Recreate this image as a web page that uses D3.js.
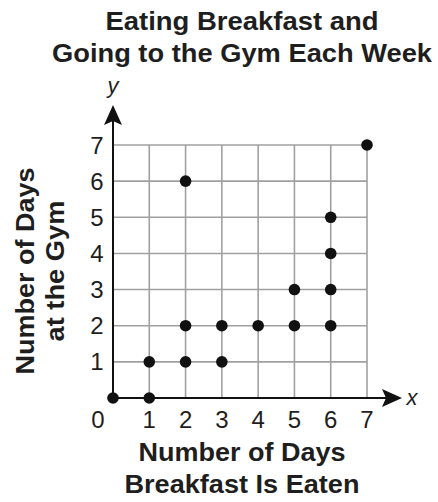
<!DOCTYPE html>
<html>
<head>
<meta charset="utf-8">
<script src="https://cdn.jsdelivr.net/npm/d3@7"></script>
<style>
  html, body { margin: 0; padding: 0; background: #fff; }
  svg { display: block; font-family: "Liberation Sans", Arial, sans-serif; }
</style>
</head>
<body>
<svg id="chart" width="438" height="502"></svg>
<script>
// Days per week: breakfast eaten (x) vs. gym visits (y)
const breakfastDays = [0, 1, 1, 2, 2, 2, 3, 3, 4, 5, 5, 6, 6, 6, 6, 7];
const gymDays       = [0, 0, 1, 1, 2, 6, 1, 2, 2, 2, 3, 2, 3, 4, 5, 7];
const xTicks = [0, 1, 2, 3, 4, 5, 6, 7];
const yTicks = [1, 2, 3, 4, 5, 6, 7];
const titleLines = ["Eating Breakfast and", "Going to the Gym Each Week"];
const xTitleLines = ["Number of Days", "Breakfast Is Eaten"];
const yTitleLines = ["Number of Days", "at the Gym"];

const points = breakfastDays.map((d, i) => ({ x: d, y: gymDays[i] }));

const svg = d3.select("#chart");
const ink = "#1e1e1e";

const x = d3.scaleLinear().domain([0, 7]).range([113, 367]);
const y = d3.scaleLinear().domain([0, 7]).range([398, 145]);

// Title
svg.append("g").selectAll("text").data(titleLines).join("text")
  .attr("x", 242).attr("y", (d, i) => 30 + i * 32)
  .attr("text-anchor", "middle")
  .attr("font-size", 26).attr("font-weight", "bold").attr("fill", ink)
  .attr("textLength", (d, i) => i === 0 ? 273 : 380)
  .attr("lengthAdjust", "spacingAndGlyphs")
  .text(d => d);

// Grid
const grid = svg.append("g").attr("stroke", "#a0a0a0").attr("stroke-width", 1.6);
grid.selectAll("line.v").data(xTicks.slice(1)).join("line").attr("class", "v")
  .attr("x1", d => x(d)).attr("x2", d => x(d))
  .attr("y1", y(0)).attr("y2", y(7));
grid.selectAll("line.h").data(yTicks).join("line").attr("class", "h")
  .attr("x1", x(0)).attr("x2", x(7))
  .attr("y1", d => y(d)).attr("y2", d => y(d));

// Axes with arrowheads
const axes = svg.append("g");
axes.append("line").attr("x1", x(0)).attr("x2", 388).attr("y1", y(0)).attr("y2", y(0))
  .attr("stroke", "#111").attr("stroke-width", 2);
axes.append("line").attr("x1", x(0)).attr("x2", x(0)).attr("y1", y(0)).attr("y2", 120)
  .attr("stroke", "#111").attr("stroke-width", 2);
axes.append("path")
  .attr("d", `M402,${y(0)} L382,${y(0) - 9} L386,${y(0)} L382,${y(0) + 9} Z`)
  .attr("fill", "#111");
axes.append("path")
  .attr("d", `M${x(0)},105 L${x(0) - 9},125 L${x(0)},121 L${x(0) + 9},125 Z`)
  .attr("fill", "#111");

// Axis variable letters
svg.append("text").attr("x", 412).attr("y", y(0) + 7)
  .attr("text-anchor", "middle").attr("font-size", 22).attr("font-style", "italic").attr("fill", ink)
  .text("x");
svg.append("text").attr("x", x(0)).attr("y", 93)
  .attr("text-anchor", "middle").attr("font-size", 22).attr("font-style", "italic").attr("fill", ink)
  .text("y");

// Tick labels
svg.append("g").selectAll("text").data(xTicks).join("text")
  .attr("x", d => d === 0 ? x(0) - 15 : x(d)).attr("y", 428)
  .attr("text-anchor", "middle").attr("font-size", 24).attr("fill", ink)
  .text(d => d);
svg.append("g").selectAll("text").data(yTicks).join("text")
  .attr("x", 97).attr("y", d => y(d) + 8.5)
  .attr("text-anchor", "middle").attr("font-size", 24).attr("fill", ink)
  .text(d => d);

// Axis titles
svg.append("g").selectAll("text").data(xTitleLines).join("text")
  .attr("x", 242).attr("y", (d, i) => 461 + i * 32)
  .attr("text-anchor", "middle").attr("font-size", 25).attr("font-weight", "bold").attr("fill", ink)
  .attr("textLength", (d, i) => i === 0 ? 207 : 235)
  .attr("lengthAdjust", "spacingAndGlyphs")
  .text(d => d);
svg.append("g").selectAll("text").data(yTitleLines).join("text")
  .attr("transform", (d, i) => `translate(${34 + i * 30},271) rotate(-90)`)
  .attr("text-anchor", "middle").attr("font-size", 25).attr("font-weight", "bold").attr("fill", ink)
  .attr("textLength", (d, i) => i === 0 ? 207 : 141)
  .attr("lengthAdjust", "spacingAndGlyphs")
  .text(d => d);

// Data points
svg.append("g").selectAll("circle").data(points).join("circle")
  .attr("cx", d => x(d.x)).attr("cy", d => y(d.y)).attr("r", 5.8)
  .attr("fill", "#111");
</script>
</body>
</html>
